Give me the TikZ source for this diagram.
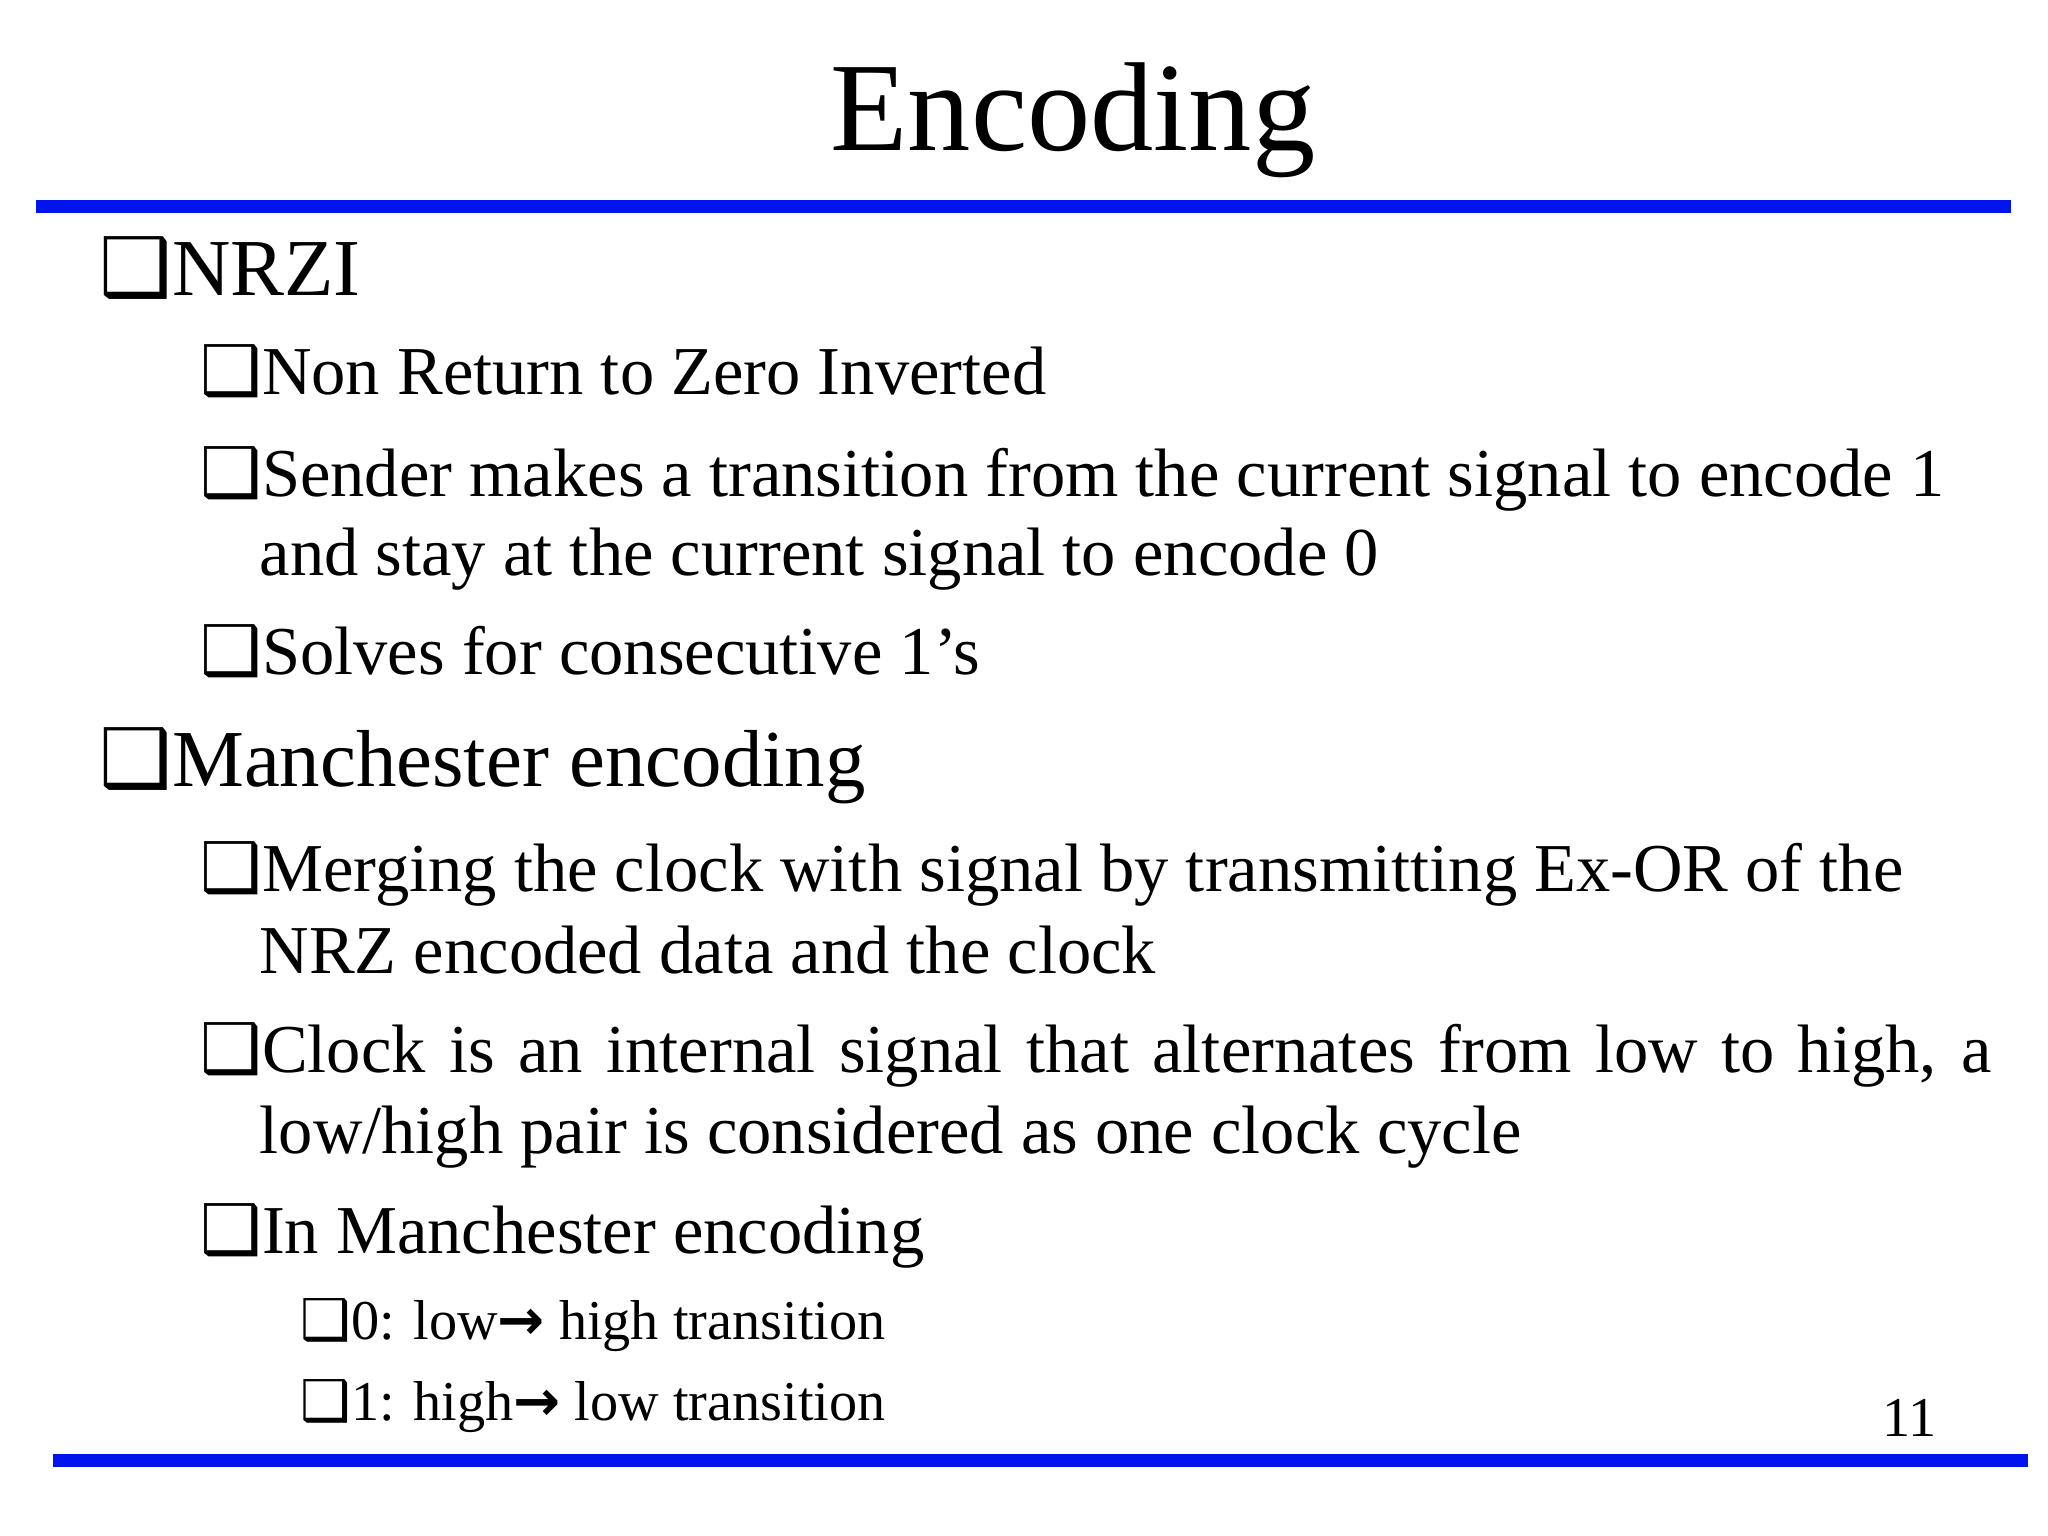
\documentclass[tikz,border=0pt]{standalone}
\usepackage{fontspec}
\setmainfont{Liberation Serif}
\newfontfamily\dvs{DejaVu Sans}
\definecolor{bl}{RGB}{0,20,235}
\newcommand{\bx}{{\dvs\char"2751}}
\newcommand{\arr}{{\dvs\bfseries\char"2192}}
\tikzset{t/.style={anchor=base west,inner sep=0pt},
 la/.style={t,font=\fontsize{23}{23}\selectfont},
 lb/.style={t,font=\fontsize{19.5}{19.5}\selectfont},
 lc/.style={t,font=\fontsize{16}{16}\selectfont},
 rule/.style={bl,line width=13pt/7.5}}
\begin{document}
\begin{tikzpicture}
\useasboundingbox (0,0) rectangle (20.48,15.36);
\fill[white] (0,0) rectangle (20.48,15.36);
\node[anchor=base,inner sep=0pt,font=\fontsize{36}{36}\selectfont] (title) at (10.73,13.85) {Encoding};
\coordinate (t1) at (0.36,13.29); \coordinate (t2) at (20.11,13.29);
\draw[bl,line width=0.13cm] (t1) -- (t2);
\coordinate (b1) at (0.53,0.75); \coordinate (b2) at (20.28,0.75);
\draw[bl,line width=0.13cm] (b1) -- (b2);
\node[la] (a1) at (0.99,12.40) {\bx NRZI};
\node[lb] (a2) at (2.00,11.41) {\bx Non Return to Zero Inverted};
\node[lb] (a3) at (2.00,10.39) {\bx Sender makes a transition from the current signal to encode 1};
\node[lb] (a4) at (2.59,9.60) {and stay at the current signal to encode 0};
\node[lb] (a5) at (2.00,8.61) {\bx Solves for consecutive 1’s};
\node[la] (a6) at (0.99,7.49) {\bx Manchester encoding};
\node[lb] (a7) at (2.00,6.44) {\bx Merging the clock with signal by transmitting Ex-OR of the};
\node[lb] (a8) at (2.59,5.62) {NRZ encoded data and the clock};
\node[lb] (a9) at (2.00,4.63) {\bx\makebox[17.30cm][s]{Clock is an internal signal that alternates from low to high, a}};
\node[lb] (a10) at (2.59,3.82) {low/high pair is considered as one clock cycle};
\node[lb] (a11) at (2.00,2.82) {\bx In Manchester encoding};
\node[lc] (a12) at (3.00,1.96) {\bx 0: low\arr{} high transition};
\node[lc] (a13) at (3.00,1.15) {\bx 1: high\arr{} low transition};
\node[anchor=base east,inner sep=0pt,font=\fontsize{16}{16}\selectfont] (pg) at (19.37,0.99) {11};
\end{tikzpicture}
\end{document}
